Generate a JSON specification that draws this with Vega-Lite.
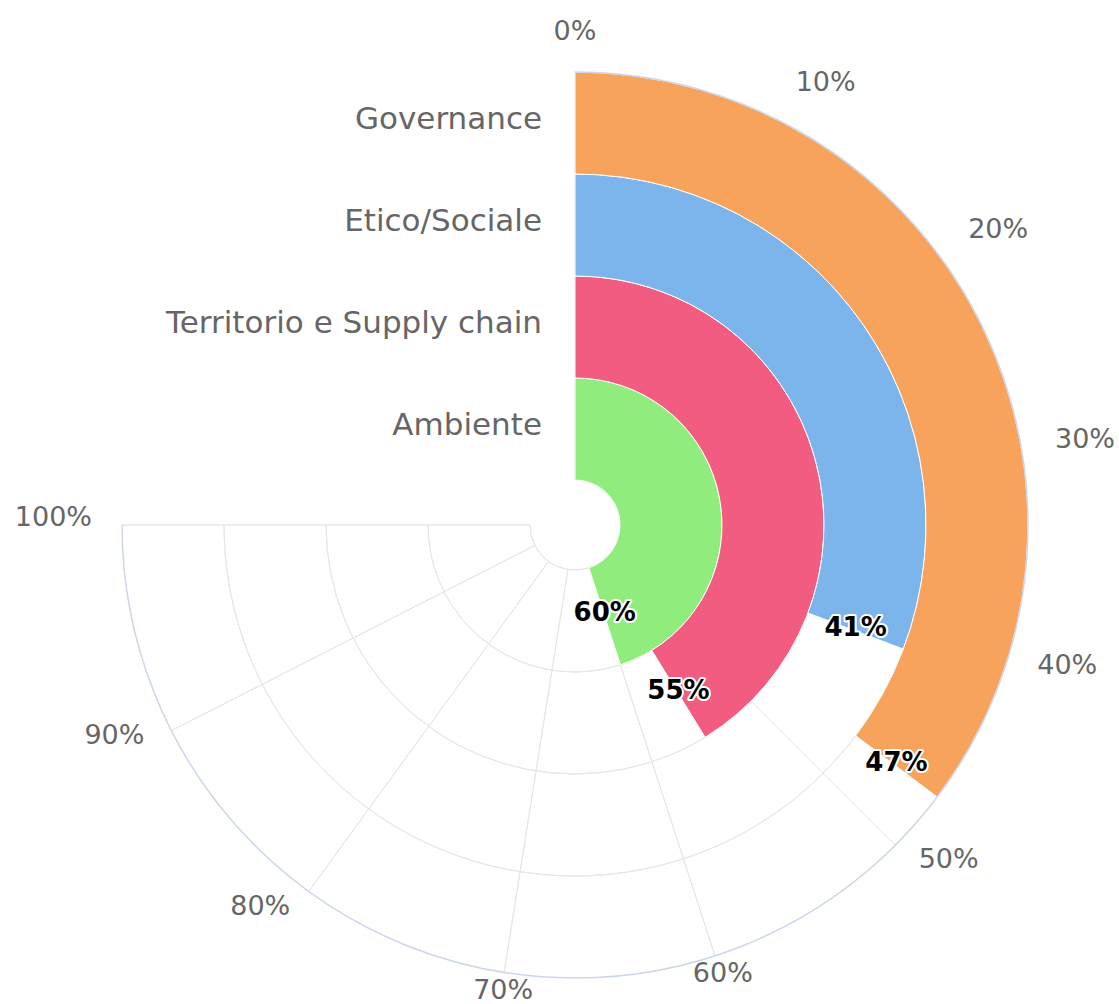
{
  "$schema": "https://vega.github.io/schema/vega-lite/v6.json",
  "width": 1119,
  "height": 1004,
  "autosize": {"type": "none"},
  "padding": 0,
  "background": "white",
  "config": {"view": {"stroke": null}},
  "datasets": {
    "barre": [
      {"categoria": "Ambiente", "valore": 0.60},
      {"categoria": "Territorio e Supply chain", "valore": 0.55},
      {"categoria": "Etico/Sociale", "valore": 0.41},
      {"categoria": "Governance", "valore": 0.47}
    ],
    "tacche": [
      {"t": 0}, {"t": 0.1}, {"t": 0.2}, {"t": 0.3}, {"t": 0.4}, {"t": 0.5},
      {"t": 0.6}, {"t": 0.7}, {"t": 0.8}, {"t": 0.9}, {"t": 1}
    ],
    "cerchi": [{"k": 0}, {"k": 1}, {"k": 2}, {"k": 3}]
  },
  "layer": [
    {
      "data": {"name": "tacche"},
      "mark": {"type": "arc", "filled": false, "stroke": "#e6e6e6", "strokeWidth": 1},
      "encoding": {
        "x": {"value": 575},
        "y": {"value": 525},
        "theta": {"field": "t", "type": "quantitative", "stack": null, "scale": {"domain": [0, 1], "range": [0, 4.71238898]}},
        "theta2": {"field": "t"},
        "radius": {"datum": 4, "type": "quantitative", "scale": {"type": "linear", "domain": [0, 4], "range": [45, 453], "zero": false}},
        "radius2": {"datum": 0}
      }
    },
    {
      "data": {"name": "cerchi"},
      "mark": {"type": "arc", "filled": false, "stroke": "#e6e6e6", "strokeWidth": 1},
      "encoding": {
        "x": {"value": 575},
        "y": {"value": 525},
        "theta": {"datum": 0, "type": "quantitative"},
        "theta2": {"datum": 1},
        "radius": {"field": "k", "type": "quantitative"},
        "radius2": {"field": "k"}
      }
    },
    {
      "data": {"name": "barre"},
      "transform": [
        {"window": [{"op": "row_number", "as": "anello"}]},
        {"calculate": "datum.anello - 1", "as": "interno"}
      ],
      "mark": {"type": "arc", "stroke": "#ffffff", "strokeWidth": 1},
      "encoding": {
        "x": {"value": 575},
        "y": {"value": 525},
        "theta": {"field": "valore", "type": "quantitative", "stack": null},
        "theta2": {"datum": 0},
        "radius": {"field": "anello", "type": "quantitative"},
        "radius2": {"field": "interno"},
        "color": {
          "field": "categoria",
          "type": "nominal",
          "legend": null,
          "scale": {
            "domain": ["Ambiente", "Territorio e Supply chain", "Etico/Sociale", "Governance"],
            "range": ["#90ed7d", "#f15c80", "#7cb5ec", "#f7a35c"]
          }
        }
      }
    },
    {
      "data": {"values": [{"k": 4}]},
      "mark": {"type": "arc", "filled": false, "stroke": "#ccd6eb", "strokeWidth": 1.5},
      "encoding": {
        "x": {"value": 575},
        "y": {"value": 525},
        "theta": {"datum": 0, "type": "quantitative"},
        "theta2": {"datum": 1},
        "radius": {"field": "k", "type": "quantitative"},
        "radius2": {"field": "k"}
      }
    },
    {
      "data": {"name": "tacche"},
      "transform": [{"filter": "datum.t < 0.05"}],
      "mark": {"type": "text", "font": "DejaVu Sans", "fontSize": 27, "color": "#666666", "align": "center", "baseline": "middle", "dy": 2},
      "encoding": {
        "x": {"value": 575},
        "y": {"value": 525},
        "theta": {"field": "t", "type": "quantitative"},
        "radius": {"value": 495},
        "text": {"field": "t", "type": "quantitative", "format": ".0%"}
      }
    },
    {
      "data": {"name": "tacche"},
      "transform": [{"filter": "datum.t > 0.05 && datum.t < 0.55"}],
      "mark": {"type": "text", "font": "DejaVu Sans", "fontSize": 27, "color": "#666666", "align": "left", "baseline": "middle", "dy": -9},
      "encoding": {
        "x": {"value": 575},
        "y": {"value": 525},
        "theta": {"field": "t", "type": "quantitative"},
        "radius": {"value": 486},
        "text": {"field": "t", "type": "quantitative", "format": ".0%"}
      }
    },
    {
      "data": {"name": "tacche"},
      "transform": [{"filter": "datum.t > 0.55 && datum.t < 0.75"}],
      "mark": {"type": "text", "font": "DejaVu Sans", "fontSize": 27, "color": "#666666", "align": "center", "baseline": "middle", "dx": 2},
      "encoding": {
        "x": {"value": 575},
        "y": {"value": 525},
        "theta": {"field": "t", "type": "quantitative"},
        "radius": {"value": 472},
        "text": {"field": "t", "type": "quantitative", "format": ".0%"}
      }
    },
    {
      "data": {"name": "tacche"},
      "transform": [{"filter": "datum.t > 0.75"}],
      "mark": {"type": "text", "font": "DejaVu Sans", "fontSize": 27, "color": "#666666", "align": "right", "baseline": "middle", "dy": -7, "dx": -2},
      "encoding": {
        "x": {"value": 575},
        "y": {"value": 525},
        "theta": {"field": "t", "type": "quantitative"},
        "radius": {"value": 481},
        "text": {"field": "t", "type": "quantitative", "format": ".0%"}
      }
    },
    {
      "data": {"name": "barre"},
      "transform": [
        {"window": [{"op": "row_number", "as": "anello"}]},
        {"calculate": "datum.anello - 0.5", "as": "centro"}
      ],
      "mark": {"type": "text", "font": "DejaVu Sans", "fontSize": 31, "color": "#666666", "align": "right", "baseline": "middle", "dx": -33, "dy": -3},
      "encoding": {
        "x": {"value": 575},
        "y": {"value": 525},
        "theta": {"datum": 0, "type": "quantitative"},
        "radius": {"field": "centro", "type": "quantitative"},
        "text": {"field": "categoria", "type": "nominal"}
      }
    },
    {
      "data": {"name": "barre"},
      "transform": [
        {"window": [{"op": "row_number", "as": "anello"}]},
        {"calculate": "datum.anello - 0.5", "as": "centro"}
      ],
      "mark": {"type": "text", "font": "DejaVu Sans", "fontSize": 26, "fontWeight": "bold", "color": "#ffffff", "stroke": "#ffffff", "strokeWidth": 4, "strokeJoin": "round", "align": "center", "baseline": "middle", "dy": -3},
      "encoding": {
        "x": {"value": 575},
        "y": {"value": 525},
        "theta": {"field": "valore", "type": "quantitative"},
        "radius": {"field": "centro", "type": "quantitative"},
        "text": {"field": "valore", "type": "quantitative", "format": ".0%"}
      }
    },
    {
      "data": {"name": "barre"},
      "transform": [
        {"window": [{"op": "row_number", "as": "anello"}]},
        {"calculate": "datum.anello - 0.5", "as": "centro"}
      ],
      "mark": {"type": "text", "font": "DejaVu Sans", "fontSize": 26, "fontWeight": "bold", "color": "#000000", "align": "center", "baseline": "middle", "dy": -3},
      "encoding": {
        "x": {"value": 575},
        "y": {"value": 525},
        "theta": {"field": "valore", "type": "quantitative"},
        "radius": {"field": "centro", "type": "quantitative"},
        "text": {"field": "valore", "type": "quantitative", "format": ".0%"}
      }
    }
  ]
}
